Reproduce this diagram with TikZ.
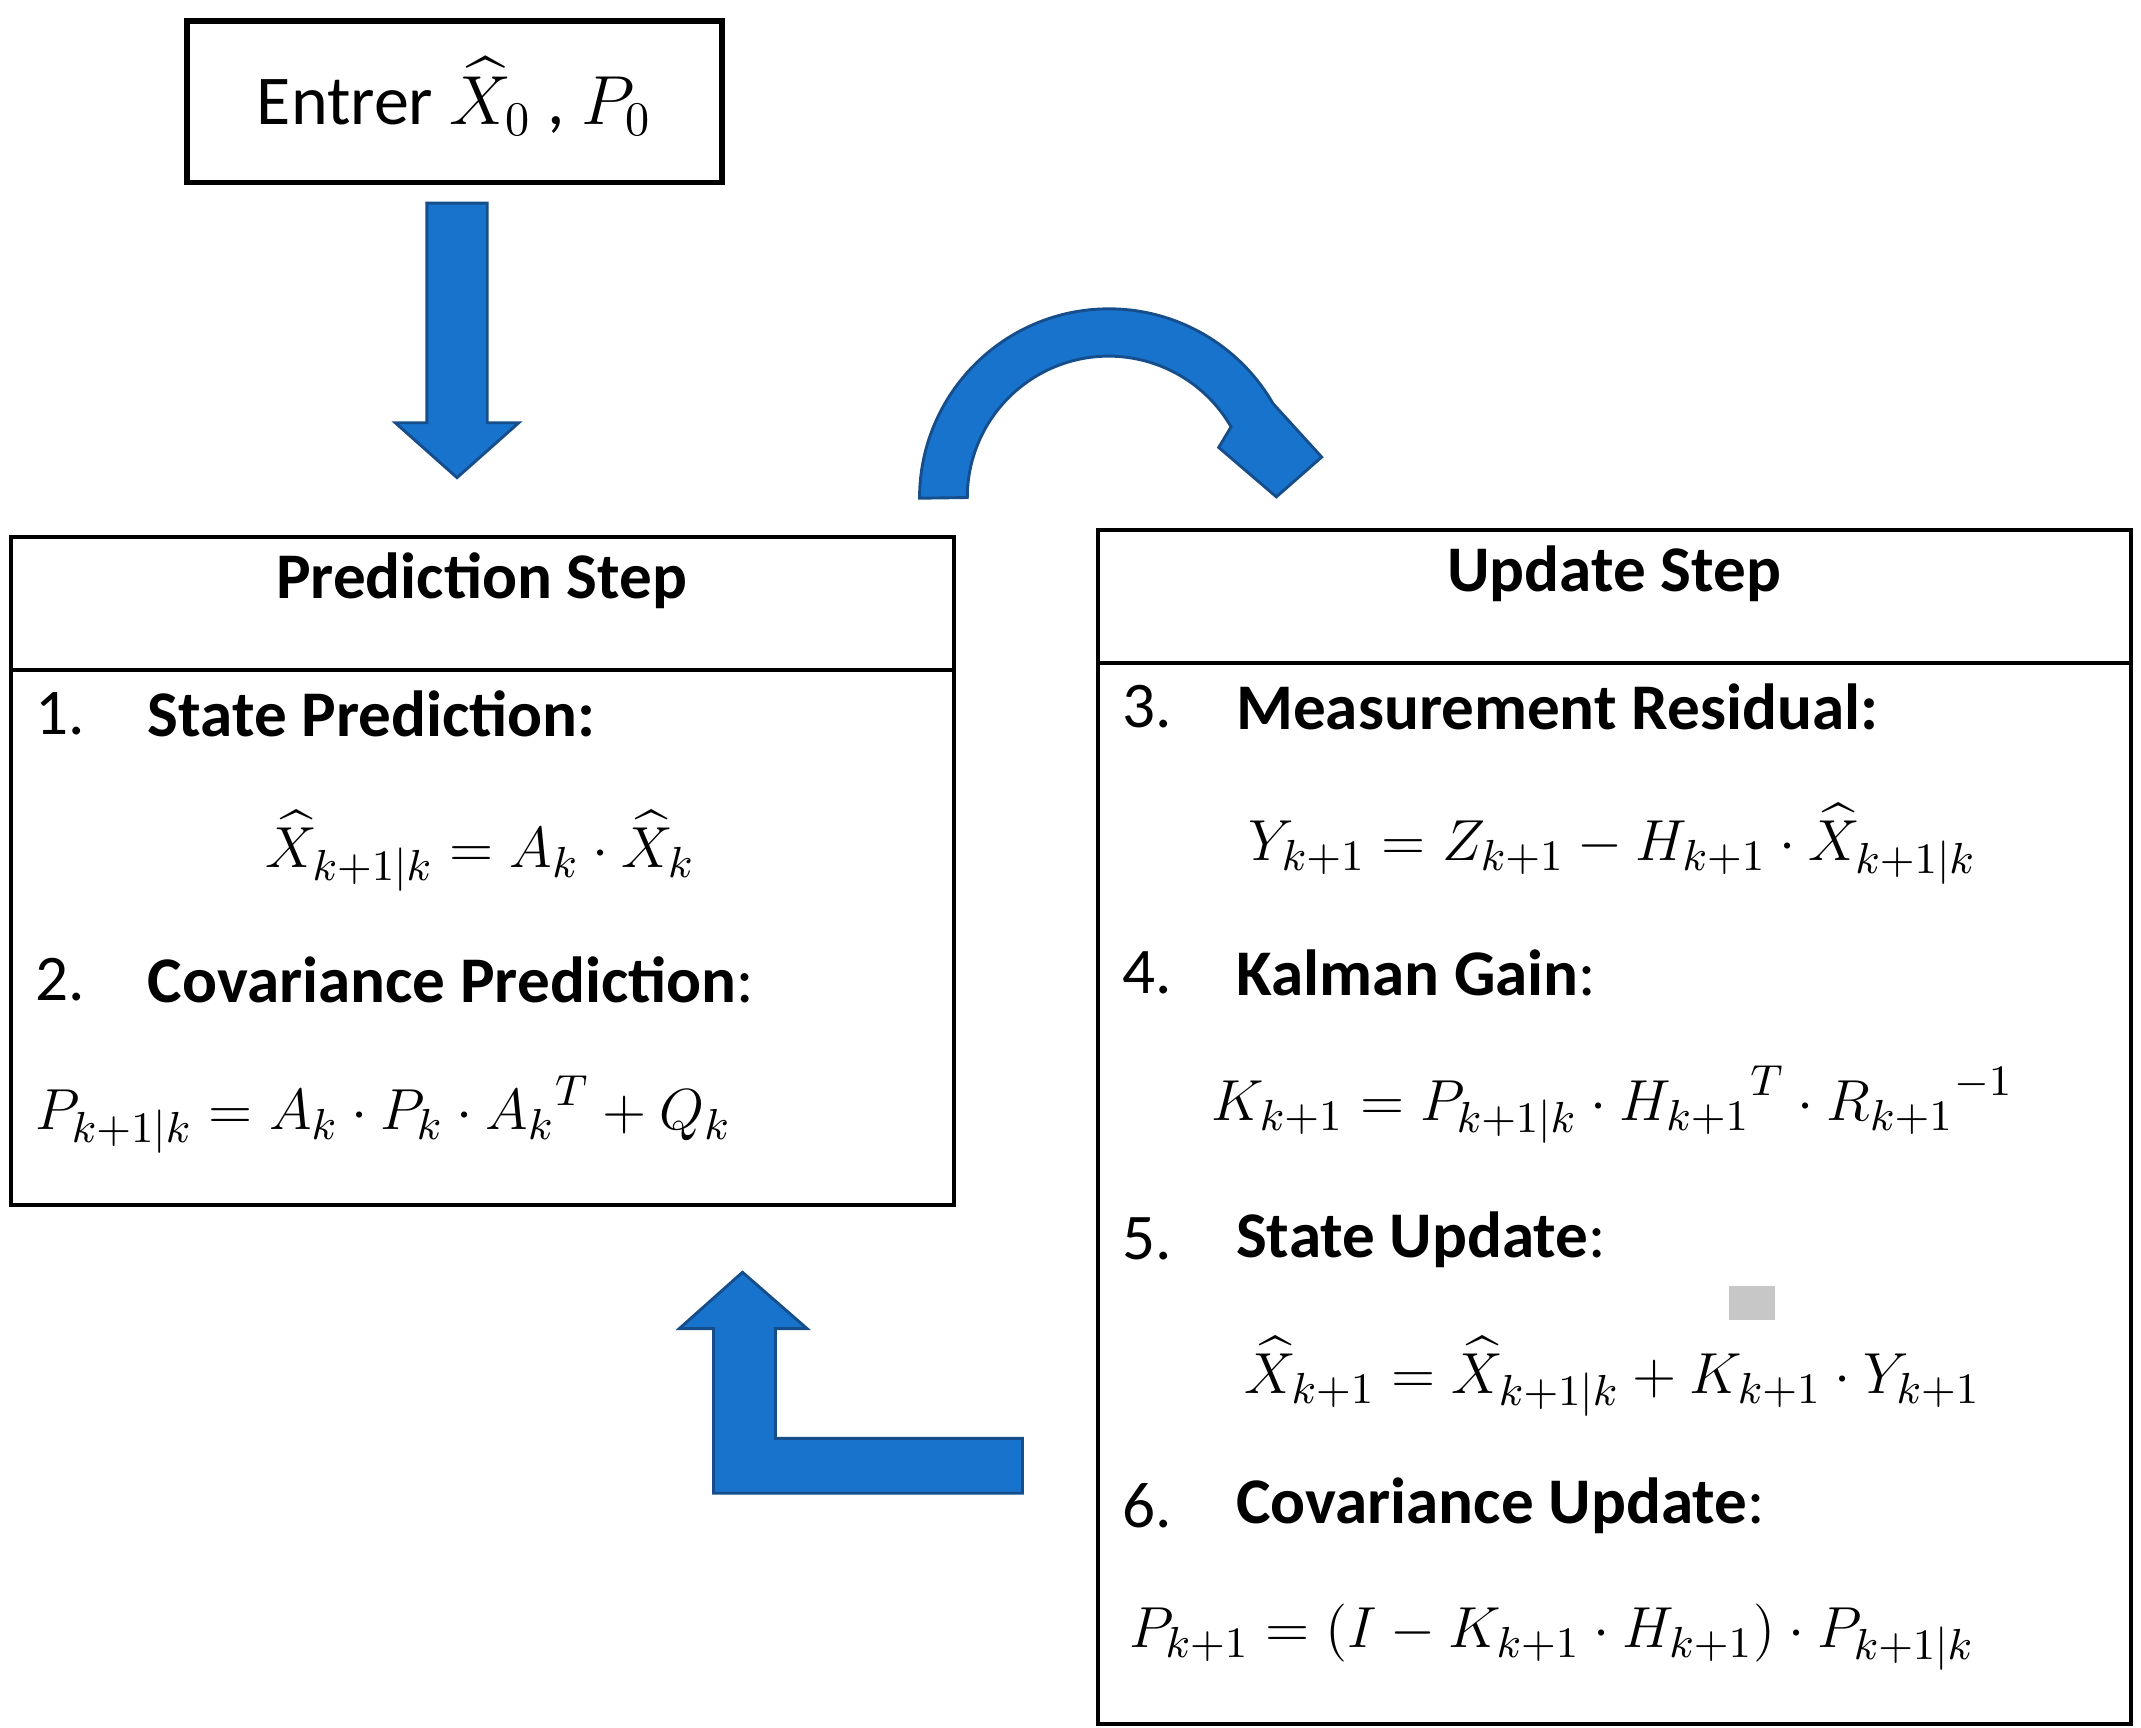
\documentclass[tikz,border=0pt]{standalone}
\usepackage{amsmath}
\usepackage{fontspec}
\setmainfont{Carlito}
\definecolor{arrowblue}{RGB}{24,115,205}
\definecolor{arrowedge}{RGB}{22,78,140}
\begin{document}
\begin{tikzpicture}[x=0.01cm,y=-0.01cm,
    txt/.style={inner sep=0pt, font=\fontsize{13.5}{16}\selectfont},
    eq/.style={inner sep=0pt, font=\fontsize{13}{15}\selectfont},
    bigarrow/.style={fill=arrowblue, draw=arrowedge, line width=0.6pt}]
        \useasboundingbox (0,0) rectangle (1560,1259);
        % Start box
        \draw[line width=1.2pt] (136,15) rectangle (526,133);
        \node[txt, font=\fontsize{14.5}{17}\selectfont] (start) at (331,70) {Entrer $\widehat{X}_0$ , $P_0$};
        \draw[bigarrow] (311,148) -- (355,148) -- (355,308) -- (378,308) -- (333,348) -- (288,308) -- (311,308) -- cycle;
        
        % Prediction box
        \draw[line width=0.8pt] (8,391) rectangle (695,878);
        \draw[line width=0.8pt] (8,488) -- (695,488);
        \node[txt] (predtitle) at (351,423) {\textbf{Prediction Step}};
        \node[txt, anchor=west] (n1) at (25,520) {1.};
        \node[txt, anchor=west] (l1) at (107,520) {\textbf{State Prediction:}};
        \node[eq] (e1) at (350,620) {$\widehat{X}_{k+1|k} = A_k \cdot \widehat{X}_k$};
        \node[txt, anchor=west] (n2) at (25,714) {2.};
        \node[txt, anchor=west] (l2) at (107,714) {\textbf{Covariance Prediction}:};
        \node[eq, anchor=west] (e2) at (25,812) {$P_{k+1|k} = A_k \cdot P_k \cdot {A_k}^T + Q_k$};
        
        % Update box
        \draw[line width=0.8pt] (800,386) rectangle (1553,1256);
        \draw[line width=0.8pt] (800,483) -- (1553,483);
        \node[txt] (updtitle) at (1176,418) {\textbf{Update Step}};
        \node[txt, anchor=west] (n3) at (817,515) {3.};
        \node[txt, anchor=west] (l3) at (900,515) {\textbf{Measurement Residual:}};
        \node[eq] (e3) at (1175,615) {$Y_{k+1} = Z_{k+1} - H_{k+1} \cdot \widehat{X}_{k+1|k}$};
        \node[txt, anchor=west] (n4) at (817,709) {4.};
        \node[txt, anchor=west] (l4) at (900,709) {\textbf{Kalman Gain}:};
        \node[eq] (e4) at (1175,805) {$K_{k+1} = P_{k+1|k} \cdot {H_{k+1}}^T \cdot {R_{k+1}}^{-1}$};
        \node[txt, anchor=west] (n5) at (817,903) {5.};
        \node[txt, anchor=west] (l5) at (900,903) {\textbf{State Update}:};
        \fill[black!22] (1260,937) rectangle (1293,962);
        \node[eq] (e5) at (1175,1003) {$\widehat{X}_{k+1} = \widehat{X}_{k+1|k} + K_{k+1} \cdot Y_{k+1}$};
        \node[txt, anchor=west] (n6) at (817,1097) {6.};
        \node[txt, anchor=west] (l6) at (900,1097) {\textbf{Covariance Update}:};
        \node[eq, anchor=west] (e6) at (822,1193) {$P_{k+1} = (I - K_{k+1} \cdot H_{k+1}) \cdot P_{k+1|k}$};
        
        % Curved arrow to update
        \draw[bigarrow] (670,363) arc[start angle=180, end angle=330, radius=138]
          -- (963,333) -- (930,362) -- (888,326) -- (897,311)
          arc[start angle=330, end angle=180, radius=103] -- cycle;
        
        % Return arrow to prediction
        \draw[bigarrow] (745,1048) -- (565,1048) -- (565,968) -- (588,968) -- (541,927)
          -- (495,968) -- (520,968) -- (520,1088) -- (745,1088) -- cycle;
      \end{tikzpicture}
\end{document}
